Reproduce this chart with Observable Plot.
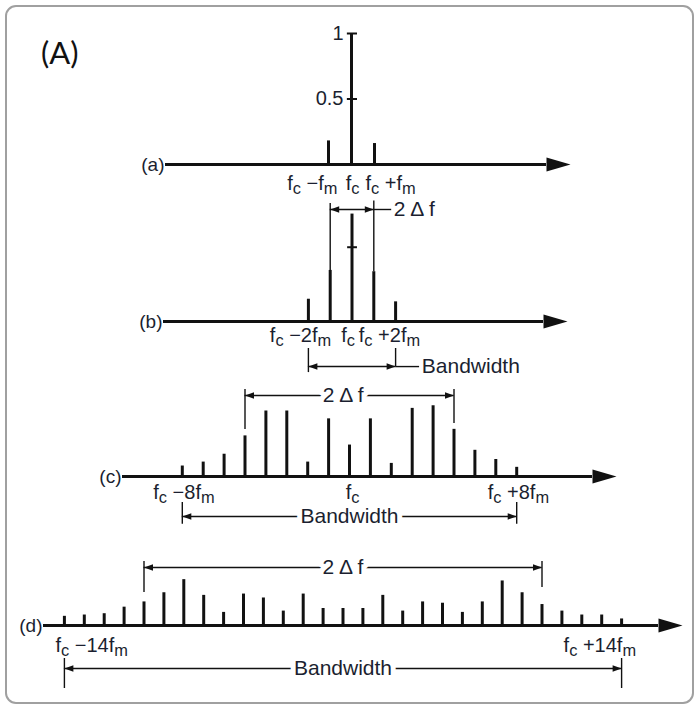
<!DOCTYPE html>
<html><head><meta charset="utf-8">
<script src="https://cdn.jsdelivr.net/npm/d3@7"></script>
<script src="https://cdn.jsdelivr.net/npm/@observablehq/plot@0.6"></script>
<style>
html,body{margin:0;padding:0;background:#fff;}
#wrap{position:relative;width:697px;height:706px;overflow:hidden;background:#fff;}
#box{position:absolute;left:5px;top:5px;width:689px;height:699px;box-sizing:border-box;border:2px solid #a0a0a0;border-radius:11px;}
#tag{position:absolute;left:41px;top:37px;font-size:31px;font-family:Lato,"Open Sans",sans-serif;color:#111;line-height:1;}
svg text{white-space:pre;}
</style></head><body>
<div id="wrap"><div id="box"></div><div id="tag">(A)</div></div>
<script>
// ---------- data (harmonic index k relative to carrier, relative amplitude) ----------
const kA = [-1, 0, 1];
const ampA = [0.18, 1.0, 0.16];

const kB = [-2, -1, 0, 1, 2];
const ampB = [0.17, 0.39, 0.82, 0.38, 0.15];

const kC = [-8, -7, -6, -5, -4, -3, -2, -1, 0, 1, 2, 3, 4, 5, 6, 7, 8];
const ampC = [0.08, 0.11, 0.17, 0.31, 0.50, 0.50, 0.11, 0.44, 0.24, 0.44, 0.10, 0.52, 0.54, 0.36, 0.20, 0.13, 0.07];

const kD = [-14, -13, -12, -11, -10, -9, -8, -7, -6, -5, -4, -3, -2, -1, 0, 1, 2, 3, 4, 5, 6, 7, 8, 9, 10, 11, 12, 13, 14];
const ampD = [0.07, 0.08, 0.09, 0.14, 0.18, 0.25, 0.35, 0.23, 0.10, 0.24, 0.21, 0.11, 0.24, 0.13, 0.13, 0.13, 0.23, 0.11, 0.18, 0.17, 0.10, 0.18, 0.34, 0.25, 0.16, 0.11, 0.08, 0.08, 0.05];

const yTickValues = [1, 0.5];
const yTickLabels = ["1", "0.5"];
const carrierMarkB = [0.567];

const panelNames = ["(a)", "(b)", "(c)", "(d)"];

// ---------- layout ----------
const W = 697, UNIT = 131;
const INK = "#111", TXT = "#1b1f30";
const FONT = "Liberation Sans, Arial, Helvetica, sans-serif";
const FS = 21, FSL = 20;

function head(dir, len, hw, atTip) {
  return {draw(ctx) {
    const tip = atTip ? 0 : dir * len, base = atTip ? -dir * len : 0;
    ctx.moveTo(tip, 0); ctx.lineTo(base, -hw); ctx.lineTo(base, hw); ctx.closePath();
  }};
}

function subscripts(svg) {
  d3.select(svg).selectAll("text").each(function () {
    const s = this.textContent;
    if (!s.includes("_")) return;
    const sel = d3.select(this);
    sel.selectAll("*").remove();
    sel.text(null);
    const parts = s.split(/_(\w)/);
    let shifted = false;
    parts.forEach((p, i) => {
      if (!p) return;
      const t = sel.append("tspan").text(p);
      if (i % 2) { t.attr("dy", shifted ? 0 : 4).attr("font-size", "82%"); shifted = true; }
      else { if (shifted) t.attr("dy", -4); shifted = false; }
    });
  });
}

function dimMarks(dim) {
  const m = [];
  m.push(Plot.ruleX(dim.ticks, {x: d => d[0], y1: d => d[1], y2: d => d[2], stroke: INK, strokeWidth: 1.4}));
  m.push(Plot.ruleY([dim.y], {x1: dim.k1, x2: dim.k2, stroke: INK, strokeWidth: 1.4}));
  m.push(Plot.dot([dim.y], {x: dim.k1, y: d => d, symbol: head(-1, 9, 3.2, true), fill: INK, stroke: "none"}));
  m.push(Plot.dot([dim.y], {x: dim.k2, y: d => d, symbol: head(1, 9, 3.2, true), fill: INK, stroke: "none"}));
  if (dim.leader) m.push(Plot.ruleY([dim.y], {x1: dim.leader[0], x2: dim.leader[1], stroke: INK, strokeWidth: 1.4}));
  m.push(Plot.text([dim.text], {x: dim.textK, y: dim.y, text: d => d, textAnchor: dim.anchor || "middle",
    fill: TXT, fontSize: FS, fontFamily: FONT, stroke: dim.halo ? "white" : undefined, strokeWidth: 10}));
  return m;
}

function panel(cfg) {
  const stems = cfg.k.map((k, i) => ({k, amp: cfg.amp[i]}));
  const marks = [
    Plot.ruleY([0], {stroke: INK, strokeWidth: 3}),
    Plot.dot([0], {y: 0, frameAnchor: "right", symbol: head(1, 24, 7, false), fill: INK, stroke: "none"}),
    Plot.ruleX(stems, {x: "k", y1: 0, y2: "amp", stroke: INK, strokeWidth: 3}),
    Plot.text([cfg.name], {y: 0, frameAnchor: "left", textAnchor: "end", dx: -1, text: d => d,
      fill: TXT, fontSize: 19, fontFamily: FONT}),
    ...cfg.labels.map(l => Plot.text([l.t], {x: l.k, y: 0, dx: l.dx, dy: cfg.labelGap, text: d => d,
      textAnchor: l.anchor, lineAnchor: "top", fill: TXT, fontSize: FSL, fontFamily: FONT})),
    ...cfg.dims.flatMap(dimMarks),
    ...(cfg.extra || [])
  ];
  const svg = Plot.plot({
    width: W, height: cfg.height,
    marginLeft: cfg.axisStart, marginRight: W - cfg.arrowBase, marginTop: 0, marginBottom: 0,
    x: {type: "linear", domain: [0, 1], range: [cfg.x0, cfg.x0 + cfg.step], axis: null},
    y: {type: "linear", domain: [0, 1], range: [cfg.axisY - cfg.top, cfg.axisY - cfg.top - UNIT], axis: null},
    style: {background: "transparent", overflow: "visible", position: "absolute", left: "0px", top: cfg.top + "px", maxWidth: "none"},
    marks
  });
  subscripts(svg);
  document.getElementById("wrap").appendChild(svg);
}

// (a)
panel({
  name: panelNames[0], k: kA, amp: ampA,
  top: 0, height: 196, axisY: 164, x0: 351, step: 23, axisStart: 165, arrowBase: 546, labelGap: 11,
  labels: [
    {t: "f_c −f_m", k: -1, dx: 9, anchor: "end"},
    {t: "f_c", k: 0, dx: 1, anchor: "middle"},
    {t: "f_c +f_m", k: 1, dx: -9, anchor: "start"}
  ],
  dims: [],
  extra: [
    Plot.ruleY(yTickValues, {x1: -0.18, x2: 0.26, stroke: INK, strokeWidth: 2}),
    Plot.text(yTickValues, {x: 0, y: d => d, dx: -8, textAnchor: "end", text: (d, i) => yTickLabels[i],
      fill: TXT, fontSize: 20, fontFamily: FONT})
  ]
});

// (b)
panel({
  name: panelNames[1], k: kB, amp: ampB,
  top: 196, height: 186, axisY: 321, x0: 351.5, step: 21.8, axisStart: 163, arrowBase: 543, labelGap: 6,
  labels: [
    {t: "f_c −2f_m", k: -1, dx: 1, anchor: "end"},
    {t: "f_c", k: 0, dx: -4, anchor: "middle"},
    {t: "f_c +2f_m", k: 1, dx: -15, anchor: "start"}
  ],
  dims: [
    {k1: -1, k2: 1, y: 0.855, ticks: [[-1, 0.39, 0.90], [1, 0.38, 0.92]], leader: [1, 1.82], text: "2 Δ f", textK: 1.92, anchor: "start"},
    {k1: -2, k2: 2, y: -0.344, ticks: [[-2, -0.206, -0.39], [2, -0.206, -0.344]], leader: [2, 3.1], text: "Bandwidth", textK: 3.2, anchor: "start"}
  ],
  extra: [
    Plot.ruleY(carrierMarkB, {x1: -0.2, x2: 0.25, stroke: INK, strokeWidth: 2})
  ]
});

// (c)
panel({
  name: panelNames[2], k: kC, amp: ampC,
  top: 382, height: 158, axisY: 476, x0: 349, step: 20.9, axisStart: 122, arrowBase: 592, labelGap: 8,
  labels: [
    {t: "f_c −8f_m", k: -8, dx: -29, anchor: "start"},
    {t: "f_c", k: 0, dx: 3, anchor: "middle"},
    {t: "f_c +8f_m", k: 8, dx: -29, anchor: "start"}
  ],
  dims: [
    {k1: -5, k2: 5, y: 0.618, ticks: [[-5, 0.664, 0.359], [5, 0.664, 0.405]], text: "2 Δ f", textK: -0.3, halo: true},
    {k1: -8, k2: 8, y: -0.305, ticks: [[-8, -0.198, -0.365], [8, -0.198, -0.365]], text: "Bandwidth", textK: 0, halo: true}
  ]
});

// (d)
panel({
  name: panelNames[3], k: kD, amp: ampD,
  top: 540, height: 160, axisY: 625, x0: 342.5, step: 19.9, axisStart: 43, arrowBase: 658, labelGap: 12,
  labels: [
    {t: "f_c −14f_m", k: -14, dx: -9, anchor: "start"},
    {t: "f_c +14f_m", k: 14, dx: -58, anchor: "start"}
  ],
  dims: [
    {k1: -10, k2: 10, y: 0.443, ticks: [[-10, 0.489, 0.252], [10, 0.489, 0.29]], text: "2 Δ f", textK: 0, halo: true},
    {k1: -14, k2: 14, y: -0.328, ticks: [[-14, -0.252, -0.481], [14, -0.252, -0.481]], text: "Bandwidth", textK: 0, halo: true}
  ]
});
</script>
</body></html>
